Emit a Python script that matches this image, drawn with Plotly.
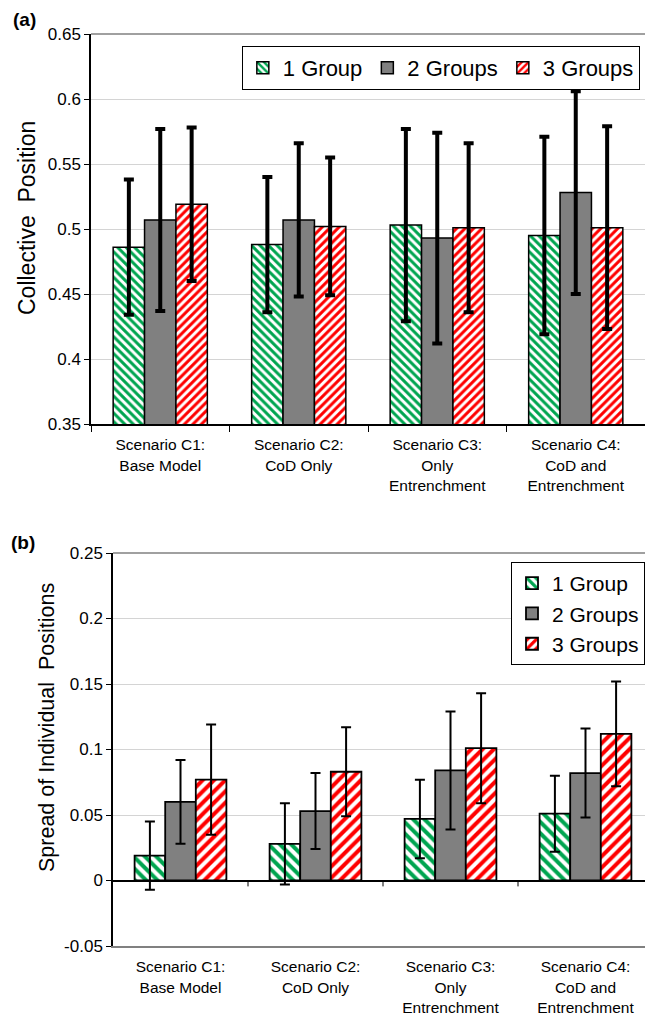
import plotly.graph_objects as go

# ---------------- data ----------------
categories = ["Scenario C1:<br>Base Model", "Scenario C2:<br>CoD Only",
              "Scenario C3:<br>Only<br>Entrenchment", "Scenario C4:<br>CoD and<br>Entrenchment"]
series_names = ["1 Group", "2 Groups", "3 Groups"]

collective_1 = [0.486, 0.488, 0.503, 0.495]
collective_2 = [0.507, 0.507, 0.493, 0.528]
collective_3 = [0.519, 0.502, 0.501, 0.501]
collective_err_1 = [0.052, 0.052, 0.074, 0.076]
collective_err_2 = [0.070, 0.059, 0.081, 0.078]
collective_err_3 = [0.059, 0.053, 0.065, 0.078]

spread_1 = [0.019, 0.028, 0.047, 0.051]
spread_2 = [0.060, 0.053, 0.084, 0.082]
spread_3 = [0.077, 0.083, 0.101, 0.112]
spread_err_1 = [0.026, 0.031, 0.030, 0.029]
spread_err_2 = [0.032, 0.029, 0.045, 0.034]
spread_err_3 = [0.042, 0.034, 0.042, 0.040]

top_ticks = [0.35, 0.4, 0.45, 0.5, 0.55, 0.6, 0.65]
top_ticktext = ["0.35", "0.4", "0.45", "0.5", "0.55", "0.6", "0.65"]
bot_ticks = [-0.05, 0, 0.05, 0.1, 0.15, 0.2, 0.25]
bot_ticktext = ["-0.05", "0", "0.05", "0.1", "0.15", "0.2", "0.25"]

# ---------------- styling ----------------
FONT = "Liberation Sans, Arial, sans-serif"
W, H = 645, 1016
GREEN = "#00a550"
RED = "#ff0000"
GRAY = "#808080"


def marker_style(i, size):
    if i == 0:
        return dict(color="white", pattern=dict(shape="\\", fgcolor=GREEN, bgcolor="white",
                                                solidity=0.5, size=size, fillmode="replace"))
    if i == 2:
        return dict(color="white", pattern=dict(shape="/", fgcolor=RED, bgcolor="white",
                                                solidity=0.5, size=size, fillmode="replace"))
    return dict(color=GRAY)


fig = go.Figure()

top_vals = [collective_1, collective_2, collective_3]
top_errs = [collective_err_1, collective_err_2, collective_err_3]
bot_vals = [spread_1, spread_2, spread_3]
bot_errs = [spread_err_1, spread_err_2, spread_err_3]

for i, name in enumerate(series_names):
    fig.add_trace(go.Bar(
        x=categories, y=top_vals[i], name=name, legend="legend",
        marker=dict(**marker_style(i, 6), line=dict(color="black", width=1.5)),
        error_y=dict(type="data", array=top_errs[i], color="black", thickness=4, width=5),
        xaxis="x", yaxis="y"))

for i, name in enumerate(series_names):
    fig.add_trace(go.Bar(
        x=categories, y=bot_vals[i], name=name, legend="legend2",
        marker=dict(**marker_style(i, 8), line=dict(color="black", width=1.8)),
        error_y=dict(type="data", array=bot_errs[i], color="black", thickness=2, width=5),
        xaxis="x2", yaxis="y2"))

# plot-area geometry (pixels -> paper)
top_px = dict(l=91, r=645, t=34, b=424)
bot_px = dict(l=113, r=645, t=553, b=946)


def xd(p):
    return [p["l"] / W, p["r"] / W]


def yd(p):
    return [1 - p["b"] / H, 1 - p["t"] / H]


n = len(categories)
cat_w_bot = 135.0
bot_range_hi = -0.5 + (bot_px["r"] - bot_px["l"]) / cat_w_bot

ytick_font = dict(family=FONT, size=17, color="black")
xtick_font = dict(family=FONT, size=15.5, color="black")

fig.update_layout(
    width=W, height=H,
    margin=dict(l=0, r=0, t=0, b=0, autoexpand=False),
    paper_bgcolor="white", plot_bgcolor="white",
    barmode="group", bargap=0.32, bargroupgap=0,
    font=dict(family=FONT, color="black"),
    showlegend=True,
    xaxis=dict(domain=xd(top_px), anchor="y", type="category", range=[-0.5, n - 0.5],
               showline=True, linecolor="black", linewidth=1.5,
               ticks="outside", tickson="boundaries", ticklen=6, tickcolor="black", tickwidth=1,
               ticklabelstandoff=6, tickfont=xtick_font, showgrid=False),
    yaxis=dict(domain=yd(top_px), anchor="x", range=[0.35, 0.65],
               tickvals=top_ticks, ticktext=top_ticktext, tickfont=ytick_font,
               showline=True, linecolor="black", linewidth=1.5,
               ticks="outside", ticklen=5, tickcolor="black",
               showgrid=True, gridcolor="#d4d4d4", gridwidth=1, zeroline=False),
    xaxis2=dict(domain=xd(bot_px), anchor="y2", type="category", range=[-0.5, bot_range_hi],
                showline=True, linecolor="#808080", linewidth=1.5,
                ticks="", ticklabelstandoff=6, tickfont=xtick_font, showgrid=False),
    yaxis2=dict(domain=yd(bot_px), anchor="x2", range=[-0.05, 0.25],
                tickvals=bot_ticks, ticktext=bot_ticktext, tickfont=ytick_font,
                showline=True, linecolor="black", linewidth=1.5,
                ticks="outside", ticklen=5, tickcolor="black",
                showgrid=True, gridcolor="#d4d4d4", gridwidth=1,
                zeroline=True, zerolinecolor="black", zerolinewidth=1.5),
    legend=dict(orientation="h", x=0.992, xanchor="right", y=1 - 46 / H, yanchor="top",
                bgcolor="white", bordercolor="black", borderwidth=1,
                font=dict(family=FONT, size=22, color="black"), traceorder="normal"),
    legend2=dict(orientation="v", x=1.0, xanchor="right", y=1 - 562 / H, yanchor="top",
                 bgcolor="white", bordercolor="black", borderwidth=1,
                 font=dict(family=FONT, size=21, color="black"), traceorder="normal",
                 tracegroupgap=0),
)

# top borders of both plot areas
for xr, yr in (("x domain", "y domain"), ("x2 domain", "y2 domain")):
    fig.add_shape(type="line", xref=xr, yref=yr, x0=0, x1=1, y0=1, y1=1,
                  line=dict(color="#808080", width=1.5), layer="above")

# category-boundary ticks hanging from the zero line in panel (b)
for k in range(1, n):
    fig.add_shape(type="line", xref="x2", yref="y2", x0=k - 0.5, x1=k - 0.5,
                  y0=0, y1=-0.0045, line=dict(color="black", width=1))

# axis titles and panel labels
fig.add_annotation(text="Collective  Position", textangle=-90, xref="paper", yref="paper",
                   x=27 / W, y=1 - 218 / H, xanchor="center", yanchor="middle", showarrow=False,
                   font=dict(family=FONT, size=23, color="black"))
fig.add_annotation(text="Spread of Individual  Positions", textangle=-90, xref="paper", yref="paper",
                   x=47 / W, y=1 - 728 / H, xanchor="center", yanchor="middle", showarrow=False,
                   font=dict(family=FONT, size=21.5, color="black"))
fig.add_annotation(text="<b>(a)</b>", xref="paper", yref="paper", x=11 / W, y=1 - 20 / H,
                   xanchor="left", yanchor="middle", showarrow=False,
                   font=dict(family=FONT, size=19, color="black"))
fig.add_annotation(text="<b>(b)</b>", xref="paper", yref="paper", x=9 / W, y=1 - 542 / H,
                   xanchor="left", yanchor="middle", showarrow=False,
                   font=dict(family=FONT, size=19, color="black"))

fig.write_html("out.html")
